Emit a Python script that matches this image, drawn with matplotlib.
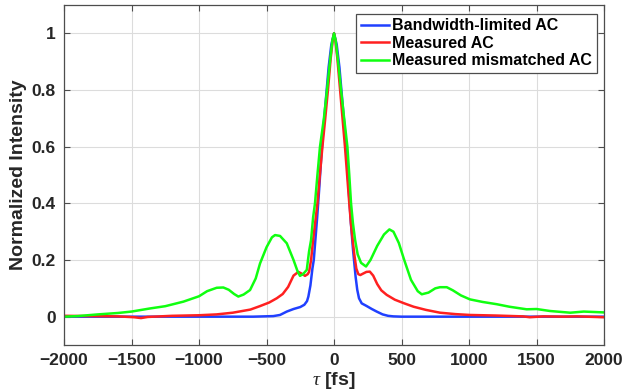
import matplotlib
matplotlib.use("Agg")
import matplotlib.pyplot as plt

plt.rcParams['font.family'] = ['Liberation Sans', 'DejaVu Sans']
plt.rcParams['mathtext.fontset'] = 'custom'
plt.rcParams['mathtext.it'] = 'Liberation Serif:italic'

# Delay axis (fs) and normalized autocorrelation traces
tau_bl = [-2000, -1500, -1000, -600, -450, -400, -350, -300, -250, -220, -200,
          -190, -175, -160, -150, -140, -125, -110, -95, -80, -60, -40, -20, 0,
          20, 40, 60, 80, 95, 110, 125, 140, 150, 160, 172, 185, 205, 240, 280,
          316, 360, 400, 440, 500, 1000, 1500, 2000]
ac_bl = [0.0, 0.0, 0.0, 0.0, 0.002, 0.006, 0.018, 0.027, 0.034, 0.042, 0.055,
         0.071, 0.11, 0.17, 0.2, 0.26, 0.35, 0.45, 0.56, 0.66, 0.77, 0.88, 0.96, 1.0,
         0.96, 0.88, 0.77, 0.66, 0.56, 0.44, 0.33, 0.24, 0.19, 0.14, 0.095, 0.065, 0.047, 0.038, 0.027,
         0.018, 0.008, 0.003, 0.001, 0.0, 0.0, 0.0, 0.0]

tau_meas = [-2000, -1800, -1600, -1480, -1430, -1380, -1200, -1000, -870, -750,
            -620, -550, -480, -424, -380, -340, -300, -264, -240, -215, -195,
            -185, -170, -155, -140, -123, -105, -86, -65, -45, -25, -10, 0,
            10, 25, 45, 63, 81, 97, 113, 125, 138, 150, 165, 180, 195, 215,
            240, 265, 290, 320, 350, 390, 450, 520, 590, 680, 785, 900, 1007,
            1200, 1400, 1450, 1550, 1700, 1800, 2000]
ac_meas = [0.003, 0.002, 0.001, -0.002, -0.005, -0.001, 0.003, 0.005, 0.008, 0.014,
           0.025, 0.037, 0.05, 0.065, 0.08, 0.105, 0.145, 0.158, 0.152, 0.144, 0.15,
           0.158, 0.2, 0.27, 0.33, 0.4, 0.5, 0.6, 0.7, 0.8, 0.91, 0.975, 1.0,
           0.975, 0.91, 0.8, 0.7, 0.6, 0.5, 0.4, 0.33, 0.271, 0.22, 0.17, 0.15, 0.147, 0.152,
           0.158, 0.159, 0.145, 0.115, 0.093, 0.077, 0.06, 0.047, 0.035, 0.024, 0.014, 0.009, 0.006,
           0.004, 0.001, -0.002, 0.001, 0.0, 0.001, -0.002]

tau_mis = [-2000, -1900, -1750, -1600, -1500, -1363, -1250, -1116, -1000, -940,
           -869, -820, -780, -740, -709, -670, -622, -580, -548, -500, -460,
           -437, -400, -350, -300, -270, -252, -230, -202, -185, -170, -155,
           -141, -123, -104, -75, -52, -30, -12, 0, 12, 30, 52, 75, 99, 113,
           126, 140, 156, 175, 200, 237, 270, 320, 370, 410, 440, 480, 520,
           570, 620, 650, 700, 750, 785, 835, 880, 940, 1007, 1100, 1205,
           1300, 1427, 1500, 1600, 1750, 1850, 2000]
ac_mis = [0.0, 0.002, 0.008, 0.013, 0.018, 0.029, 0.037, 0.053, 0.072, 0.09,
          0.102, 0.103, 0.095, 0.08, 0.071, 0.078, 0.094, 0.135, 0.188, 0.245, 0.28,
          0.288, 0.285, 0.259, 0.2, 0.16, 0.144, 0.15, 0.165, 0.23, 0.271, 0.35,
          0.4, 0.5, 0.6, 0.7, 0.8, 0.9, 0.975, 1.0, 0.975, 0.9, 0.8, 0.7, 0.6, 0.5,
          0.4, 0.33, 0.271, 0.22, 0.19, 0.177, 0.2, 0.25, 0.29, 0.308, 0.3, 0.26, 0.2,
          0.13, 0.09, 0.079, 0.085, 0.1, 0.104, 0.104, 0.093, 0.075, 0.061, 0.052, 0.044,
          0.035, 0.026, 0.027, 0.02, 0.014, 0.018, 0.015]

labels = ['Bandwidth-limited AC', 'Measured AC', 'Measured mismatched AC']
colors = ['#2040ff', '#ff2020', '#10ff10']

fig = plt.figure(figsize=(6.24, 3.92), dpi=100)
ax = fig.add_axes([0.1026, 0.1199, 0.8654, 0.8673])

ax.plot(tau_bl, ac_bl, color=colors[0], lw=1.8, label=labels[0])
ax.plot(tau_meas, ac_meas, color=colors[1], lw=1.8, label=labels[1])
ax.plot(tau_mis, ac_mis, color=colors[2], lw=1.8, label=labels[2])

ax.set_xlim(-2000, 2000)
ax.set_ylim(-0.1, 1.1)
ax.set_xticks(range(-2000, 2001, 500))
ax.set_yticks([0, 0.2, 0.4, 0.6, 0.8, 1.0])
ax.set_yticklabels(['0', '0.2', '0.4', '0.6', '0.8', '1'])

ax.grid(True, color='#dcdcdc', lw=0.8)
ax.set_axisbelow(True)
for s in ax.spines.values():
    s.set_color('#4d4d4d')
    s.set_linewidth(0.9)
ax.tick_params(direction='in', length=4, width=0.8, color='#4d4d4d',
               top=True, right=True, labelsize=12.5, labelcolor='#262626', pad=6)
for lab in ax.get_xticklabels() + ax.get_yticklabels():
    lab.set_fontweight('bold')

ax.set_xlabel(r'$\tau$ [fs]', fontsize=14, fontweight='bold', color='#262626', labelpad=1)
ax.set_ylabel('Normalized Intensity', fontsize=14, fontweight='bold', color='#262626', labelpad=3)

leg = ax.legend(loc='upper right', bbox_to_anchor=(0.987, 0.975), borderaxespad=0,
                fancybox=False, framealpha=1, edgecolor='#4d4d4d',
                prop={'size': 11.5, 'weight': 'bold'}, handlelength=1.75,
                handletextpad=0.2, labelspacing=0.15, borderpad=0.3)
leg.get_frame().set_linewidth(0.9)

fig.savefig('out.png', dpi=100)
